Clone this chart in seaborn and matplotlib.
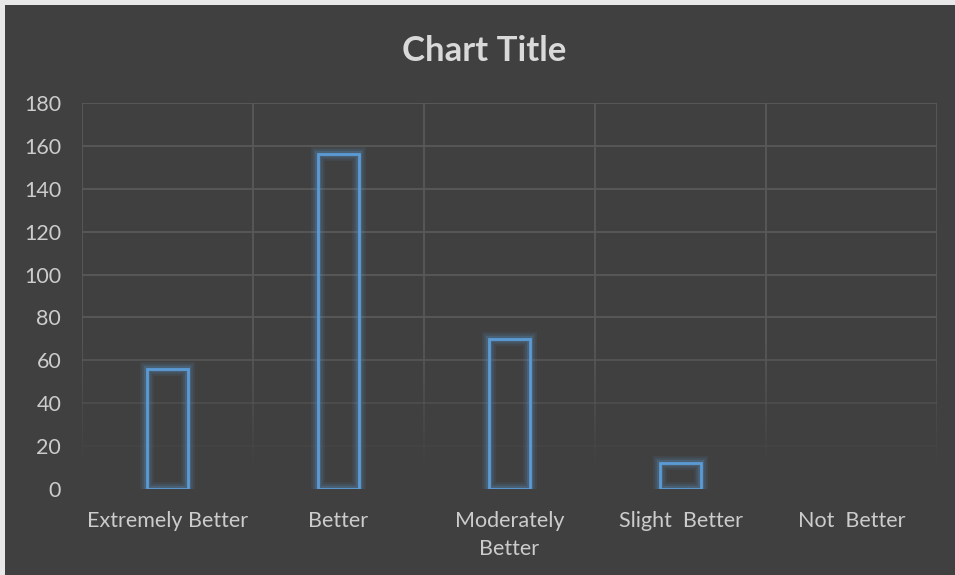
import matplotlib
matplotlib.use("Agg")
import matplotlib.pyplot as plt
import matplotlib.patches as mpatches
from matplotlib.collections import LineCollection
from matplotlib.colors import to_rgba
import seaborn as sns
import pandas as pd
import numpy as np

categories = ["Extremely Better", "Better", "Moderately\nBetter", "Slight  Better", "Not  Better"]
values = [56, 156, 70, 12, 0]
y_ticks = [0, 20, 40, 60, 80, 100, 120, 140, 160, 180]

BG = "#404040"
GRID = "#595959"
TEXT = "#CCCCCC"
TITLE = "#D9D9D9"
BAR = "#5B9BD5"

sns.set_theme(style="dark")
plt.rcParams["font.family"] = ["Lato", "DejaVu Sans"]

fig = plt.figure(figsize=(9.55, 5.75), dpi=100, facecolor="#E8E8E8")
# dark chart area with a thin light margin on the top and left
fig.patches.append(mpatches.Rectangle((5 / 955, 0), 1, 1 - 5 / 575,
                                      transform=fig.transFigure,
                                      facecolor=BG, edgecolor="none", zorder=-5))

ax = fig.add_axes([82 / 955, 86 / 575, (937 - 82) / 955, (489 - 103) / 575])
ax.set_facecolor(BG)

df = pd.DataFrame({"category": categories, "value": values})
sns.barplot(data=df, x="category", y="value", ax=ax, width=0.24,
            fill=False, color=BAR, linewidth=2.0, zorder=3)

# soft glow around each bar outline
for p in list(ax.patches):
    p.set_edgecolor(BAR)
    p.set_zorder(4)
    if p.get_height() <= 0:
        p.set_visible(False)
        continue
    for lw, a in [(10, 0.09), (7, 0.13), (4.5, 0.2)]:
        g = mpatches.Rectangle(p.get_xy(), p.get_width(), p.get_height(),
                               fill=False, edgecolor=BAR, linewidth=lw,
                               alpha=a, zorder=3, joinstyle="miter")
        ax.add_patch(g)

ymax = y_ticks[-1]
ax.set_ylim(0, ymax)
ax.set_xlim(-0.5, len(categories) - 0.5)
ax.set_yticks(y_ticks)
ax.set_xticks(range(len(categories)))
ax.set_xticklabels(categories)

# gridlines that fade out towards the base of the plot
grid_rgba = np.array(to_rgba(GRID))


def fade(y):
    return float(np.clip((y - 10) / 60, 0, 1))


for y in y_ticks:
    a = fade(y)
    if a > 0:
        ax.axhline(y, color=GRID, linewidth=1.3, alpha=a, zorder=1)

ys = np.linspace(0, ymax, 91)
for xb in np.arange(-0.5, len(categories), 1.0):
    segs = [[(xb, ys[i]), (xb, ys[i + 1])] for i in range(len(ys) - 1)]
    cols = [(*grid_rgba[:3], fade((ys[i] + ys[i + 1]) / 2)) for i in range(len(ys) - 1)]
    ax.add_collection(LineCollection(segs, colors=cols, linewidths=1.3, zorder=1))

ax.grid(False)
for s in ax.spines.values():
    s.set_visible(False)

ax.tick_params(axis="both", which="both", length=0, colors=TEXT, labelsize=15.5)
ax.tick_params(axis="y", pad=15)
ax.tick_params(axis="x", pad=15.5)
for lbl in ax.get_xticklabels():
    lbl.set_linespacing(1.5)

ax.set_xlabel("")
ax.set_ylabel("")

fig.text(484 / 955, 1 - 51 / 575, "Chart Title", ha="center", va="center",
         color=TITLE, fontsize=25, fontweight="bold")

fig.savefig("out.png", dpi=100, facecolor=fig.get_facecolor())
